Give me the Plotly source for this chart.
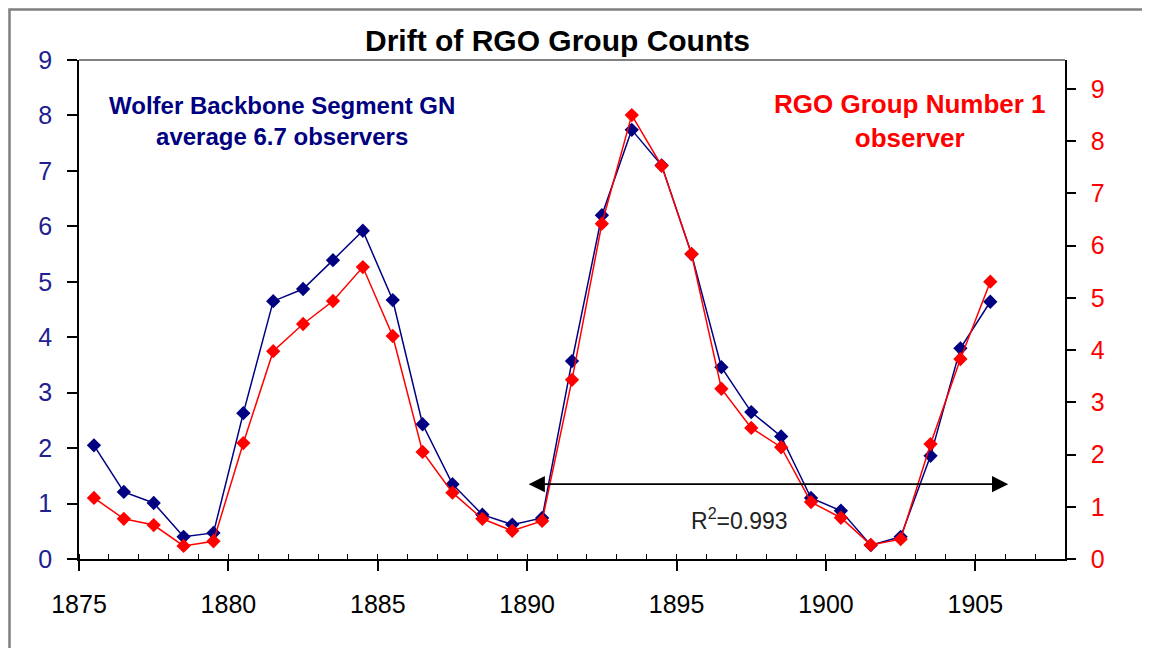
import plotly.graph_objects as go

# mid-year positions of the yearly points
years = [1875.5, 1876.5, 1877.5, 1878.5, 1879.5, 1880.5, 1881.5, 1882.5,
         1883.5, 1884.5, 1885.5, 1886.5, 1887.5, 1888.5, 1889.5, 1890.5,
         1891.5, 1892.5, 1893.5, 1894.5, 1895.5, 1896.5, 1897.5, 1898.5,
         1899.5, 1900.5, 1901.5, 1902.5, 1903.5, 1904.5, 1905.5]

# Wolfer backbone group numbers (left axis)
wolfer_gn = [2.05, 1.21, 1.01, 0.40, 0.47, 2.63, 4.65, 4.87, 5.39, 5.92, 4.67,
             2.43, 1.35, 0.80, 0.62, 0.74, 3.57, 6.20, 7.74, 7.10, 5.50, 3.46,
             2.65, 2.21, 1.10, 0.87, 0.25, 0.40, 1.86, 3.80, 4.64]

# RGO group numbers (right axis)
rgo_gn = [1.17, 0.77, 0.65, 0.25, 0.34, 2.22, 3.98, 4.50, 4.94, 5.59, 4.27,
          2.05, 1.27, 0.77, 0.54, 0.73, 3.43, 6.42, 8.50, 7.53, 5.84, 3.26,
          2.51, 2.14, 1.09, 0.79, 0.27, 0.38, 2.20, 3.83, 5.31]

arrow_x = [1890.0, 1906.1]
arrow_y = 1.35
r2_text = "R<sup>2</sup>=0.993"

NAVY = "#000080"
RED = "#ff0000"
FONT = "Liberation Sans, Arial, sans-serif"

fig = go.Figure()

# the two series, one per y axis
fig.add_trace(go.Scatter(x=years, y=wolfer_gn, mode="lines+markers",
                         line=dict(color=NAVY, width=1.5),
                         marker=dict(symbol="diamond", size=11, color=NAVY),
                         yaxis="y"))
fig.add_trace(go.Scatter(x=years, y=rgo_gn, mode="lines+markers",
                         line=dict(color=RED, width=1.5),
                         marker=dict(symbol="diamond", size=11, color=RED),
                         yaxis="y2"))

# margins account for the 8px page margin around the figure
fig.update_layout(
    width=1150, height=648,
    margin=dict(l=71, r=93, t=52, b=97),
    plot_bgcolor="white", paper_bgcolor="white",
    showlegend=False,
    font=dict(family=FONT),
    xaxis=dict(range=[1875, 1908], tick0=1875, dtick=5, showgrid=False, zeroline=False,
               automargin=False,
               showline=True, linecolor="black", linewidth=1.5,
               ticks="outside", ticklen=10, tickwidth=1.5, tickcolor="black",
               ticklabelstandoff=12,
               tickfont=dict(size=25, color="black"),
               minor=dict(dtick=1, tick0=1875, ticks="inside", ticklen=5,
                          tickwidth=1, tickcolor="black", showgrid=False)),
    yaxis=dict(range=[0, 9], dtick=1, showgrid=False, zeroline=False,
               automargin=False,
               showline=True, linecolor="black", linewidth=1.5,
               ticks="outside", ticklen=10, tickwidth=1.5, tickcolor="black",
               ticklabelstandoff=10,
               tickfont=dict(size=25, color="#202090")),
    yaxis2=dict(range=[0, 9.555], dtick=1, overlaying="y", side="right",
                showgrid=False, zeroline=False, automargin=False,
                showline=True, linecolor="black", linewidth=1.5,
                ticks="outside", ticklen=9, tickwidth=1.5, tickcolor="black",
                ticklabelstandoff=10,
                tickfont=dict(size=25, color=RED)),
    yaxis3=dict(range=[0, 9.555], dtick=1, overlaying="y", side="right",
                anchor="x", showgrid=False, zeroline=False, showline=False,
                automargin=False,
                ticks="inside", ticklen=9, tickwidth=1.5, tickcolor="black",
                showticklabels=False),
)

# outer frame of the chart and the grey top edge of the plot area
fig.add_shape(type="rect", xref="paper", yref="paper", x0=-0.0705, x1=1.3,
              y0=-0.3, y1=1.101, line=dict(color="#808080", width=2.5))
fig.add_shape(type="line", xref="paper", yref="paper", x0=0, x1=1, y0=1, y1=1,
              line=dict(color="#808080", width=2))

# chart title
fig.add_annotation(text="<b>Drift of RGO Group Counts</b>", xref="paper", yref="paper",
                   x=0.485, y=1.040, xanchor="center", yanchor="middle",
                   showarrow=False, font=dict(size=30, color="black"))

# series labels
fig.add_annotation(text="<b>Wolfer Backbone Segment GN<br>average 6.7 observers</b>",
                   xref="paper", yref="paper", x=0.206, y=0.878,
                   xanchor="center", yanchor="middle", showarrow=False,
                   font=dict(size=24, color=NAVY), align="center")
fig.add_annotation(text="<b>RGO Group Number 1<br>observer</b>",
                   xref="paper", yref="paper", x=0.843, y=0.878,
                   xanchor="center", yanchor="middle", showarrow=False,
                   font=dict(size=26, color=RED), align="center")

# double arrow and correlation label
fig.add_annotation(x=arrow_x[1], y=arrow_y, ax=arrow_x[0], ay=arrow_y,
                   xref="x", yref="y", axref="x", ayref="y", text="",
                   showarrow=True, arrowside="end+start", arrowhead=2,
                   arrowsize=1.8, arrowwidth=1.8, arrowcolor="black")
fig.add_annotation(text=r2_text, x=1897.1, y=0.72, xref="x", yref="y",
                   showarrow=False, font=dict(size=23, color="#222222"))

fig.write_html("out.html")
